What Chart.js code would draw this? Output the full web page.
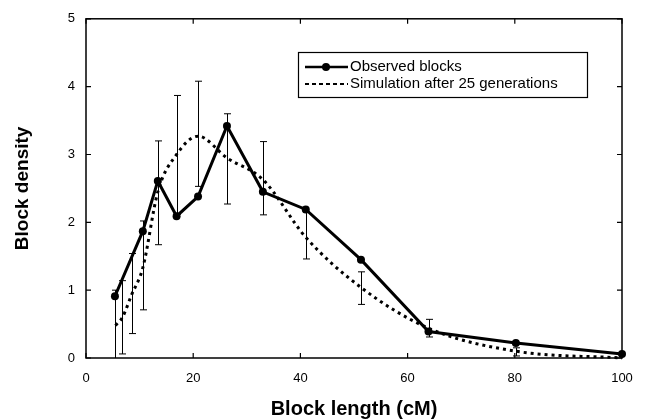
<!DOCTYPE html>
<html>
<head>
<meta charset="utf-8">
<script src="https://cdn.jsdelivr.net/npm/chart.js@4/dist/chart.umd.min.js"></script>
<style>
  html, body { margin: 0; padding: 0; background: #fff; }
  #wrap { width: 648px; height: 419px; }
</style>
</head>
<body>
<div id="wrap"><canvas id="blockChart" width="648" height="419"></canvas></div>
<script>
'use strict';

// observed block lengths (cM) and densities
const obsX = [5.4, 10.6, 13.4, 16.9, 20.9, 26.3, 33.0, 41.0, 51.3, 63.9, 80.2, 100];
const obsY = [0.91, 1.87, 2.61, 2.09, 2.38, 3.42, 2.45, 2.19, 1.45, 0.39, 0.22, 0.06];

// simulation after 25 generations, with error bar ranges
const simX    = [5.5, 6.8, 8.5, 10.6, 13.4, 16.9, 20.9, 26.3, 33.0, 41.0, 51.3, 63.9, 80.2, 100];
const simY    = [0.48, 0.60, 0.93, 1.33, 2.45, 3.00, 3.27, 2.95, 2.63, 1.78, 1.04, 0.44, 0.10, 0.0];
const simLow  = [0.0, 0.06, 0.36, 0.71, 1.67, 2.12, 2.53, 2.27, 2.11, 1.46, 0.79, 0.31, 0.03, null];
const simHigh = [1.0, 1.14, 1.54, 2.02, 3.20, 3.87, 4.08, 3.60, 3.19, 2.15, 1.27, 0.57, 0.15, null];

const xTicks = [0, 20, 40, 60, 80, 100];
const yTicks = [0, 1, 2, 3, 4, 5];

const legendLabels = ['Observed blocks', 'Simulation after 25 generations'];

const FONT = '"Liberation Sans", Arial, Helvetica, sans-serif';

// error bars on the simulation
const errorBars = {
  id: 'errorBars',
  afterDatasetsDraw(chart) {
    const { ctx, scales: { x, y } } = chart;
    ctx.save();
    ctx.strokeStyle = '#000';
    ctx.lineWidth = 1;
    simX.forEach((v, i) => {
      if (simLow[i] == null) return;
      const px = Math.round(x.getPixelForValue(v)) + 0.5;
      const lo = y.getPixelForValue(simLow[i]);
      const hi = y.getPixelForValue(simHigh[i]);
      ctx.beginPath();
      ctx.moveTo(px, lo); ctx.lineTo(px, hi);
      ctx.moveTo(px - 3.5, hi); ctx.lineTo(px + 3.5, hi);
      if (simLow[i] > 0) { ctx.moveTo(px - 3.5, lo); ctx.lineTo(px + 3.5, lo); }
      ctx.stroke();
    });
    ctx.restore();
  }
};

// box round the plot with inward ticks, and the legend box
const frame = {
  id: 'frame',
  afterDraw(chart) {
    const { ctx, chartArea: a, scales: { x, y } } = chart;
    ctx.save();
    ctx.strokeStyle = '#000';
    ctx.lineWidth = 1.5;
    ctx.strokeRect(a.left, a.top, a.right - a.left, a.bottom - a.top);
    ctx.lineWidth = 1.2;
    ctx.beginPath();
    xTicks.forEach(t => {
      const px = x.getPixelForValue(t);
      ctx.moveTo(px, a.bottom); ctx.lineTo(px, a.bottom - 5);
      ctx.moveTo(px, a.top); ctx.lineTo(px, a.top + 5);
    });
    yTicks.forEach(t => {
      const py = y.getPixelForValue(t);
      ctx.moveTo(a.left, py); ctx.lineTo(a.left + 5, py);
      ctx.moveTo(a.right, py); ctx.lineTo(a.right - 5, py);
    });
    ctx.stroke();

    // legend
    const bx = 298, by = 52, bw = 289, bh = 45;
    ctx.lineWidth = 1.2;
    ctx.strokeRect(bx + 0.5, by + 0.5, bw, bh);
    const r1 = 67, r2 = 84;
    ctx.lineWidth = 2.5;
    ctx.beginPath();
    ctx.moveTo(305, r1); ctx.lineTo(348, r1);
    ctx.stroke();
    ctx.fillStyle = '#000';
    ctx.beginPath();
    ctx.arc(326, r1, 4, 0, Math.PI * 2);
    ctx.fill();
    ctx.lineWidth = 2;
    ctx.setLineDash([4, 3]);
    ctx.beginPath();
    ctx.moveTo(305, r2); ctx.lineTo(348, r2);
    ctx.stroke();
    ctx.setLineDash([]);
    ctx.font = '15px ' + FONT;
    ctx.textBaseline = 'middle';
    ctx.textAlign = 'left';
    ctx.fillText(legendLabels[0], 350, r1);
    ctx.fillText(legendLabels[1], 350, r2);
    ctx.restore();
  }
};

const ctx = document.getElementById('blockChart').getContext('2d');
new Chart(ctx, {
  type: 'line',
  data: {
    datasets: [
      {
        label: legendLabels[0],
        data: obsX.map((v, i) => ({ x: v, y: obsY[i] })),
        borderColor: '#000', backgroundColor: '#000',
        borderWidth: 3, pointRadius: 4, pointHoverRadius: 4,
        pointBackgroundColor: '#000', pointBorderWidth: 0,
        tension: 0, clip: false,
      },
      {
        label: legendLabels[1],
        data: simX.map((v, i) => ({ x: v, y: simY[i] })),
        borderColor: '#000',
        borderWidth: 3, borderDash: [3, 4], pointRadius: 0,
        cubicInterpolationMode: 'monotone', clip: false,
      }
    ]
  },
  options: {
    responsive: false, animation: false,
    layout: { padding: { left: 0, right: 26, top: 17, bottom: 0 } },
    plugins: { legend: { display: false }, tooltip: { enabled: false } },
    scales: {
      x: {
        type: 'linear', min: 0, max: 100,
        afterFit: s => { s.height = 61; },
        afterBuildTicks: s => { s.ticks = xTicks.map(v => ({ value: v })); },
        grid: { display: false, drawTicks: false },
        border: { display: false },
        ticks: { color: '#000', padding: 13, font: { family: FONT, size: 13 } },
        title: { display: true, text: 'Block length (cM)', color: '#000', padding: { top: 0, bottom: 0 },
                 font: { family: FONT, size: 20, weight: 'bold', lineHeight: 1.0 } }
      },
      y: {
        min: 0, max: 5,
        afterFit: s => { s.width = 86; },
        afterBuildTicks: s => { s.ticks = yTicks.map(v => ({ value: v })); },
        grid: { display: false, drawTicks: false },
        border: { display: false },
        ticks: { color: '#000', padding: 11, font: { family: FONT, size: 13 } },
        title: { display: true, text: 'Block density', color: '#000', padding: { top: 11, bottom: 0 },
                 font: { family: FONT, size: 19, weight: 'bold' } }
      }
    }
  },
  plugins: [errorBars, frame]
});
</script>
</body>
</html>
